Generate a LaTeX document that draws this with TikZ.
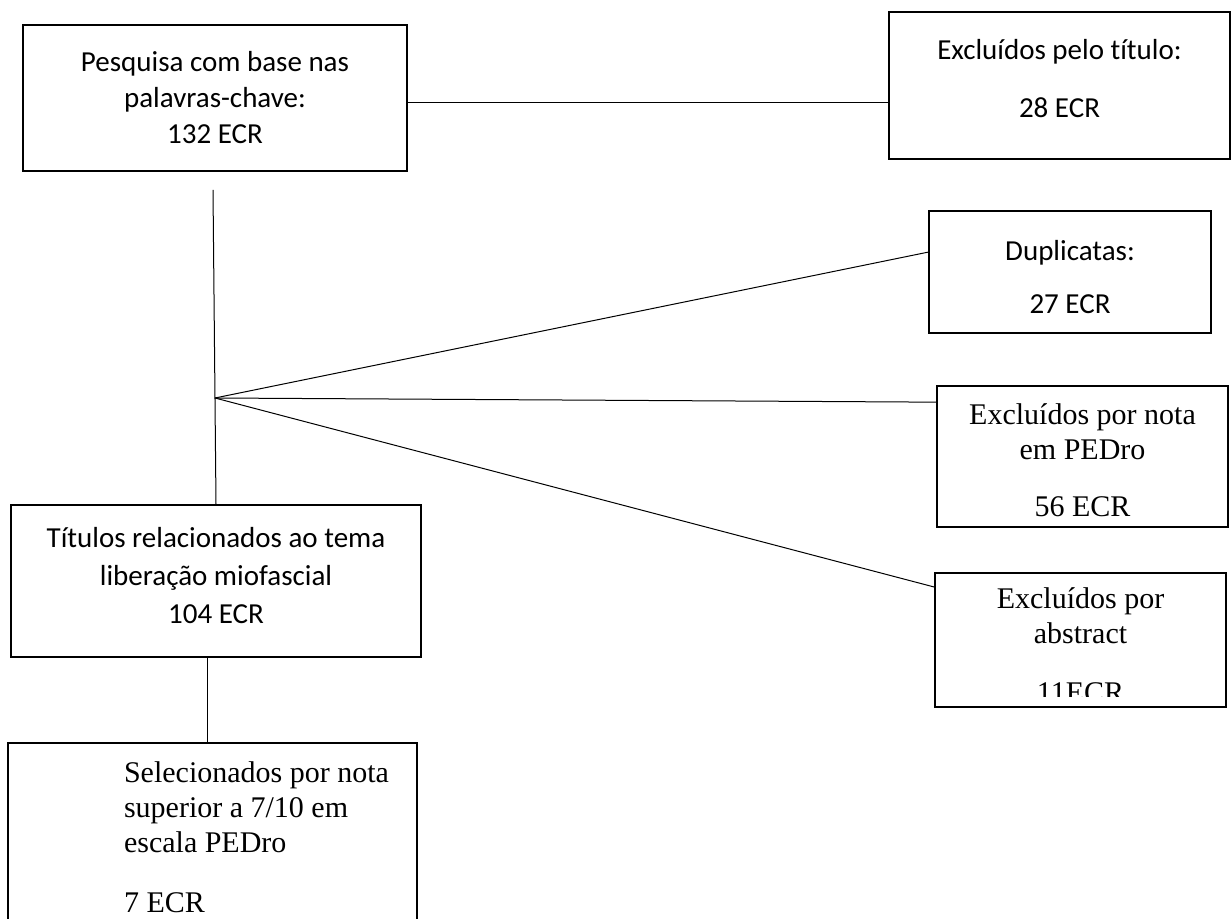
\documentclass[tikz,border=0pt]{standalone}
\usepackage{fontspec}
\setmainfont{Liberation Serif}
\newfontfamily\calibrifont[Ligatures=NoCommon]{Carlito}
\usetikzlibrary{calc}
\newcommand\recuo{\hspace*{44pt}}

\begin{document}
\begin{tikzpicture}[x=0.5pt,y=-0.5pt,line width=0.5pt,
            main node/.style={rectangle,draw,line width=1pt,inner sep=0pt,align=center},
            sans node/.style={main node,font=\calibrifont\fontsize{14.5}{18}\selectfont},
            serif node/.style={main node,font=\fontsize{15}{17.5}\selectfont}]
            \useasboundingbox (0,0) rectangle (1232,919);
            % caixas
            \node[sans node, minimum width=192pt, minimum height=73pt] (busca) at (215,98) {Pesquisa com base nas\\palavras-chave:\\132 ECR};
            \node[sans node, minimum width=170.5pt, minimum height=73.5pt] (titulo) at (1059.5,85.5) {Excluídos pelo título:\\[11pt]28 ECR\rule[-7pt]{0pt}{7pt}};
            \node[sans node, minimum width=141pt, minimum height=61pt] (dup) at (1070,272) {\rule{0pt}{15pt}Duplicatas:\\[8.5pt]27 ECR};
            \node[serif node, minimum width=145.5pt, minimum height=70.5pt] (pedro) at (1082.5,456.5) {\rule{0pt}{14pt}Excluídos por nota\\em PEDro\\[11pt]56 ECR};
            \node[serif node, minimum width=145.5pt, minimum height=67pt] (abstract) at (1080.5,640) {\rule{0pt}{16pt}Excluídos por\\abstract\\[12pt]11ECR};
            \node[sans node, minimum width=205pt, minimum height=76pt] (tema) at (216,581) {Títulos relacionados ao tema\\[1pt]liberação miofascial\\[1pt]104 ECR\rule[-6pt]{0pt}{6pt}};
            \node[serif node, align=left, minimum width=204.5pt, minimum height=94pt] (selec) at (212.5,837) {\recuo Selecionados por nota\\\recuo superior a 7/10 em\\\recuo escala PEDro\\[12.5pt]\recuo 7 ECR};
            % ultima linha cortada
            \fill[white] ($(abstract.south west)+(2.5,-2.5)$) rectangle ($(abstract.south east)+(-2.5,-11)$);
            % ligacoes
            \coordinate (topo) at (213,190);
            \coordinate (J) at (215,398);
            \path
            ([yshift=-2.5pt]busca.east) edge ([yshift=-2.5pt]busca.east -| titulo.west)
            (topo) edge (tema.north)
            (J) edge ($(dup.north west)!0.34!(dup.south west)$)
            (J) edge ($(pedro.north west)!0.12!(pedro.south west)$)
            (J) edge ($(abstract.north west)!0.11!(abstract.south west)$)
            ([xshift=-4.5pt]tema.south) edge ([xshift=-4.5pt]tema.south |- selec.north)
            ;
        \end{tikzpicture}
\end{document}
